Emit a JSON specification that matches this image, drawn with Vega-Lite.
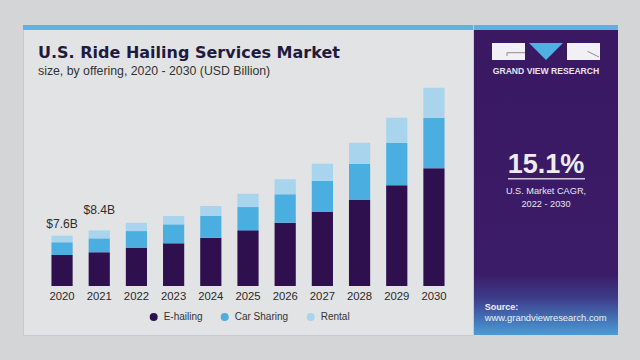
{
  "$schema": "https://vega.github.io/schema/vega-lite/v6.json",
  "background": "#d4d5d7",
  "padding": {"left": 22, "top": 24, "right": 24, "bottom": 26},
  "spacing": 0,
  "config": {"view": {"stroke": null}, "font": "Liberation Sans"},
  "resolve": {"scale": {"color": "independent"}, "legend": {"color": "independent"}},
  "datasets": {
    "market": [
      {"year": 2020, "offering": "E-hailing", "value": 4.7},
      {"year": 2020, "offering": "Car Sharing", "value": 1.9},
      {"year": 2020, "offering": "Rental", "value": 1.0},
      {"year": 2021, "offering": "E-hailing", "value": 5.1},
      {"year": 2021, "offering": "Car Sharing", "value": 2.1},
      {"year": 2021, "offering": "Rental", "value": 1.2},
      {"year": 2022, "offering": "E-hailing", "value": 5.8},
      {"year": 2022, "offering": "Car Sharing", "value": 2.5},
      {"year": 2022, "offering": "Rental", "value": 1.25},
      {"year": 2023, "offering": "E-hailing", "value": 6.45},
      {"year": 2023, "offering": "Car Sharing", "value": 2.87},
      {"year": 2023, "offering": "Rental", "value": 1.25},
      {"year": 2024, "offering": "E-hailing", "value": 7.3},
      {"year": 2024, "offering": "Car Sharing", "value": 3.28},
      {"year": 2024, "offering": "Rental", "value": 1.51},
      {"year": 2025, "offering": "E-hailing", "value": 8.41},
      {"year": 2025, "offering": "Car Sharing", "value": 3.52},
      {"year": 2025, "offering": "Rental", "value": 2.01},
      {"year": 2026, "offering": "E-hailing", "value": 9.56},
      {"year": 2026, "offering": "Car Sharing", "value": 4.29},
      {"year": 2026, "offering": "Rental", "value": 2.27},
      {"year": 2027, "offering": "E-hailing", "value": 11.18},
      {"year": 2027, "offering": "Car Sharing", "value": 4.68},
      {"year": 2027, "offering": "Rental", "value": 2.61},
      {"year": 2028, "offering": "E-hailing", "value": 12.99},
      {"year": 2028, "offering": "Car Sharing", "value": 5.48},
      {"year": 2028, "offering": "Rental", "value": 3.17},
      {"year": 2029, "offering": "E-hailing", "value": 15.21},
      {"year": 2029, "offering": "Car Sharing", "value": 6.44},
      {"year": 2029, "offering": "Rental", "value": 3.78},
      {"year": 2030, "offering": "E-hailing", "value": 17.78},
      {"year": 2030, "offering": "Car Sharing", "value": 7.64},
      {"year": 2030, "offering": "Rental", "value": 4.53}
    ]
  },
  "hconcat": [
    {
      "width": 450,
      "height": 310,
      "view": {"fill": "#e2e3e5", "stroke": "#c9cacd", "strokeWidth": 1},
      "title": {
        "text": "U.S. Ride Hailing Services Market",
        "subtitle": "size, by offering, 2020 - 2030 (USD Billion)",
        "anchor": "start",
        "frame": "group",
        "orient": "top",
        "offset": -52,
        "dx": 15,
        "font": "DejaVu Sans",
        "fontSize": 16,
        "fontWeight": "bold",
        "color": "#1e1b3c",
        "subtitleFont": "Liberation Sans",
        "subtitleFontSize": 12.3,
        "subtitleColor": "#333333",
        "subtitlePadding": 4
      },
      "layer": [
        {
          "data": {"values": [{}]},
          "mark": {"type": "rect", "color": "#5cb3e0"},
          "encoding": {"x": {"value": 0}, "x2": {"value": "width"}, "y": {"value": 0}, "y2": {"value": 5}}
        },
        {
          "data": {"name": "market"},
          "mark": {"type": "bar"},
          "encoding": {
            "x": {
              "field": "year", "type": "ordinal",
              "scale": {"paddingInner": 0.43, "paddingOuter": 0.765},
              "axis": {"title": null, "orient": "bottom", "offset": -49, "domain": false, "ticks": false, "labelPadding": 4, "labelAngle": 0, "labelFontSize": 11.3, "labelColor": "#2a2a2a"}
            },
            "y": {"field": "value", "type": "quantitative", "stack": "zero", "scale": {"domain": [-7.4, 39.43], "nice": false, "zero": false}, "axis": null},
            "order": {"field": "value", "sort": "descending"},
            "color": {
              "field": "offering", "type": "nominal",
              "sort": ["E-hailing", "Car Sharing", "Rental"],
              "scale": {"domain": ["E-hailing", "Car Sharing", "Rental"], "range": ["#2f104e", "#4aaee0", "#a8d4ed"]},
              "legend": {"title": null, "orient": "none", "legendX": 125.7, "legendY": 287, "direction": "horizontal", "padding": 0, "symbolType": "circle", "symbolSize": 64, "symbolStrokeWidth": 0, "labelFontSize": 10, "labelColor": "#333333", "labelOffset": 5, "columnPadding": 17}
            }
          }
        },
        {
          "data": {"values": [{"year": 2020, "total": 7.6, "label": "$7.6B"}]},
          "mark": {"type": "text", "dy": -7.7, "baseline": "alphabetic", "fontSize": 12.1, "color": "#2e2e2e"},
          "encoding": {"x": {"field": "year", "type": "ordinal"}, "y": {"field": "total", "type": "quantitative"}, "text": {"field": "label"}}
        },
        {
          "data": {"values": [{"year": 2021, "total": 8.4, "label": "$8.4B"}]},
          "mark": {"type": "text", "dy": -16, "baseline": "alphabetic", "fontSize": 12.1, "color": "#2e2e2e"},
          "encoding": {"x": {"field": "year", "type": "ordinal"}, "y": {"field": "total", "type": "quantitative"}, "text": {"field": "label"}}
        }
      ]
    },
    {
      "width": 144,
      "height": 310,
      "layer": [
        {
          "data": {"values": [{}]},
          "mark": {"type": "rect", "color": "#5cb3e0"},
          "encoding": {"x": {"value": 0}, "x2": {"value": "width"}, "y": {"value": 0}, "y2": {"value": 5}}
        },
        {
          "data": {"values": [{}]},
          "mark": {
            "type": "rect",
            "color": {"gradient": "linear", "x1": 0, "y1": 0, "x2": 0, "y2": 1,
              "stops": [
                {"offset": 0, "color": "#3a1862"},
                {"offset": 0.8, "color": "#3b1c68"},
                {"offset": 0.88, "color": "#3d3d8a"},
                {"offset": 1, "color": "#4a9cd8"}
              ]}
          },
          "encoding": {"x": {"value": 0}, "x2": {"value": "width"}, "y": {"value": 5}, "y2": {"value": "height"}}
        },
        {
          "data": {"values": [{}]},
          "mark": {"type": "rect", "color": "#f1f0f5"},
          "encoding": {"x": {"value": 18}, "x2": {"value": 51}, "y": {"value": 18}, "y2": {"value": 35}}
        },
        {
          "data": {"values": [{}]},
          "mark": {"type": "rect", "color": "#f1f0f5"},
          "encoding": {"x": {"value": 93}, "x2": {"value": 126}, "y": {"value": 18}, "y2": {"value": 35}}
        },
        {
          "data": {"values": [{}]},
          "mark": {"type": "point", "shape": "M-1,-0.5L1,-0.5L0,0.5Z", "filled": true, "opacity": 1, "size": 1156, "color": "#4fb0e3"},
          "encoding": {"x": {"value": 72}, "y": {"value": 26.5}}
        },
        {
          "data": {"values": [{}]},
          "mark": {"type": "rule", "color": "#8d8c99", "strokeWidth": 1},
          "encoding": {"x": {"value": 33}, "x2": {"value": 51}, "y": {"value": 27.7}, "y2": {"value": 27.7}}
        },
        {
          "data": {"values": [{}]},
          "mark": {"type": "rule", "color": "#8d8c99", "strokeWidth": 1},
          "encoding": {"x": {"value": 33}, "x2": {"value": 33}, "y": {"value": 27.7}, "y2": {"value": 31}}
        },
        {
          "data": {"values": [{}]},
          "mark": {"type": "rule", "color": "#8d8c99", "strokeWidth": 1},
          "encoding": {"x": {"value": 113.5}, "x2": {"value": 125}, "y": {"value": 26.3}, "y2": {"value": 32}}
        },
        {
          "data": {"values": [{"note": "GRAND VIEW RESEARCH"}]},
          "mark": {"type": "text", "align": "center", "baseline": "middle", "fontSize": 8.6, "fontWeight": "bold", "color": "#e6e4ee"},
          "encoding": {"x": {"value": 72}, "y": {"value": 45.7}, "text": {"field": "note"}}
        },
        {
          "data": {"values": [{"note": "15.1%"}]},
          "mark": {"type": "text", "align": "center", "baseline": "alphabetic", "fontSize": 27, "fontWeight": "bold", "color": "#ededf0"},
          "encoding": {"x": {"value": 72}, "y": {"value": 147.7}, "text": {"field": "note"}}
        },
        {
          "data": {"values": [{}]},
          "mark": {"type": "rule", "color": "#cfcad8", "strokeWidth": 1.5},
          "encoding": {"x": {"value": 34}, "x2": {"value": 111}, "y": {"value": 153.7}, "y2": {"value": 153.7}}
        },
        {
          "data": {"values": [{"note": "U.S. Market CAGR,"}]},
          "mark": {"type": "text", "align": "center", "baseline": "middle", "fontSize": 9.2, "color": "#e8e8ee"},
          "encoding": {"x": {"value": 72}, "y": {"value": 166}, "text": {"field": "note"}}
        },
        {
          "data": {"values": [{"note": "2022 - 2030"}]},
          "mark": {"type": "text", "align": "center", "baseline": "middle", "fontSize": 9.2, "color": "#e8e8ee"},
          "encoding": {"x": {"value": 72}, "y": {"value": 179.3}, "text": {"field": "note"}}
        },
        {
          "data": {"values": [{"note": "Source:"}]},
          "mark": {"type": "text", "align": "left", "baseline": "middle", "fontSize": 9, "fontWeight": "bold", "color": "#f0f0f4"},
          "encoding": {"x": {"value": 10.7}, "y": {"value": 282}, "text": {"field": "note"}}
        },
        {
          "data": {"values": [{"note": "www.grandviewresearch.com"}]},
          "mark": {"type": "text", "align": "left", "baseline": "middle", "fontSize": 9.4, "color": "#eef0f6"},
          "encoding": {"x": {"value": 10.7}, "y": {"value": 293}, "text": {"field": "note"}}
        }
      ]
    }
  ]
}
